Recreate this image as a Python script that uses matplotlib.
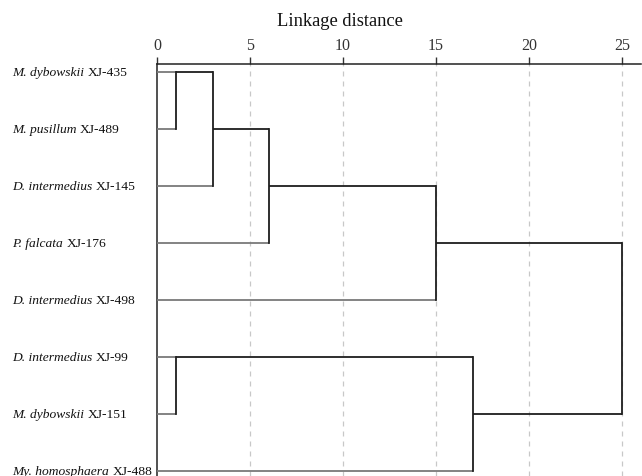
import matplotlib
matplotlib.use("Agg")
import matplotlib.pyplot as plt
import matplotlib.transforms as mtransforms
from matplotlib.offsetbox import TextArea, HPacker, AnnotationBbox

# ---- data ----
genus = ["M. dybowskii", "M. pusillum", "D. intermedius", "P. falcata",
         "D. intermedius", "D. intermedius", "M. dybowskii", "My. homosphaera"]
codes = ["XJ-435", "XJ-489", "XJ-145", "XJ-176",
         "XJ-498", "XJ-99", "XJ-151", "XJ-488"]
# merges: (child_a, child_b, height); leaves 0..7, clusters numbered 8..
merge_a = [0, 8, 9, 10, 5, 12, 11]
merge_b = [1, 2, 3, 4, 6, 7, 13]
merge_h = [1, 3, 6, 15, 1, 17, 25]
xticks = [0, 5, 10, 15, 20, 25]

plt.rcParams['font.family'] = ['Liberation Serif', 'DejaVu Serif']

W, H = 642, 476
fig = plt.figure(figsize=(W / 100, H / 100), dpi=100)
ax_left, ax_top = 157, 64
ax = fig.add_axes([ax_left / W, 0, 1 - ax_left / W - 0.001, 1 - ax_top / H])

n = len(codes)
pos = {i: float(i) for i in range(n)}
hgt = {i: 0.0 for i in range(n)}
leaf_col = "#7a7a7a"
node_col = "#1e1e1e"
lw = 1.3
for k, (a, b, h) in enumerate(zip(merge_a, merge_b, merge_h)):
    node = n + k
    for c in (a, b):
        col = leaf_col if c < n else node_col
        ax.plot([hgt[c], h], [pos[c], pos[c]], color=col, lw=lw,
                solid_capstyle='butt', zorder=3)
    ax.plot([h, h], [pos[a], pos[b]], color=node_col, lw=lw,
            solid_capstyle='projecting', zorder=3)
    pos[node] = float(int((pos[a] + pos[b]) / 2))
    hgt[node] = h

ax.set_xlim(0, 26.05)
ax.set_ylim(7.09, -0.14)
ax.set_yticks([])
ax.set_xticks(xticks)
ax.xaxis.tick_top()
ax.tick_params(axis='x', direction='out', length=5, width=1, labelsize=11.5,
               pad=2, colors='#333333')
for x in xticks[1:]:
    ax.axvline(x, color='#c8c8c8', lw=0.9, ls=(0, (4, 4)), zorder=1)
for s in ['right', 'bottom']:
    ax.spines[s].set_visible(False)
for s in ['top', 'left']:
    ax.spines[s].set_linewidth(1.1)
    ax.spines[s].set_color('#222222')

fs = 9.7
trans = mtransforms.blended_transform_factory(fig.transFigure, ax.transData)
for i in range(n):
    t1 = TextArea(genus[i], textprops=dict(fontsize=fs, style='italic', color='#111111'))
    t2 = TextArea(codes[i], textprops=dict(fontsize=fs, color='#111111'))
    box = HPacker(children=[t1, t2], pad=0, sep=2.5, align='baseline')
    ab = AnnotationBbox(box, (12 / W, i), xycoords=trans, box_alignment=(0, 0.62),
                        frameon=False, pad=0, annotation_clip=False)
    ax.add_artist(ab)

fig.text(340 / W, 1 - 22 / H, "Linkage distance", ha='center', va='center',
         fontsize=13.3, color='#111111')

fig.savefig("out.png", dpi=100)
